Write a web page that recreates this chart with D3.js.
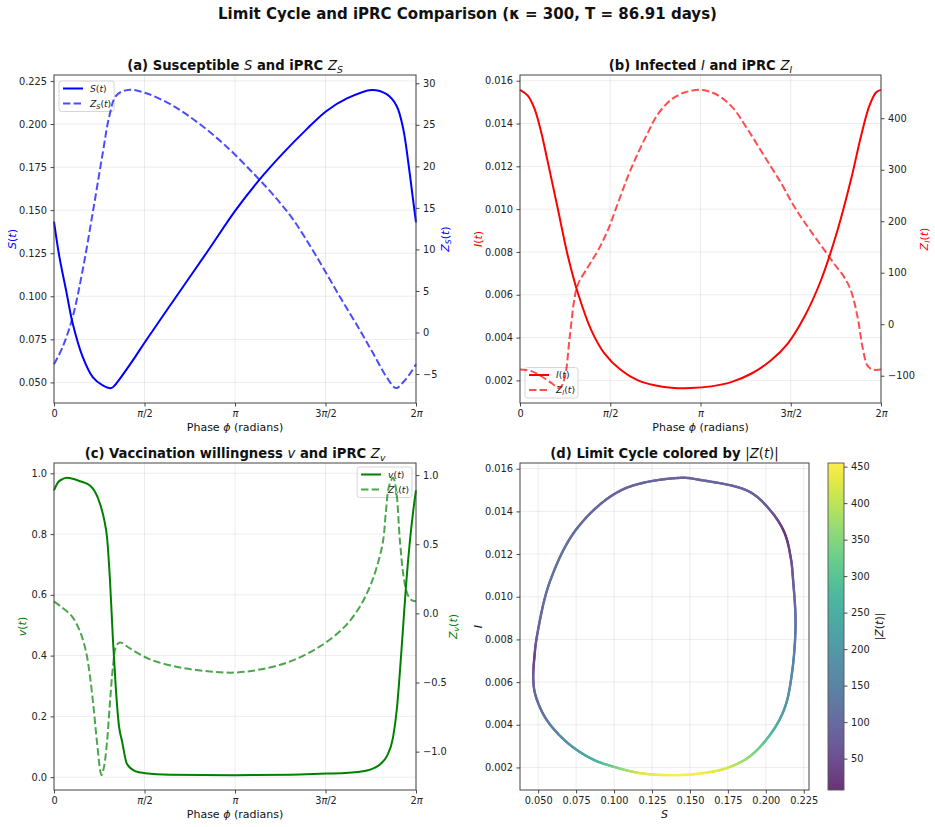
<!DOCTYPE html>
<html>
<head>
<meta charset="utf-8">
<script src="https://cdn.jsdelivr.net/npm/d3@7"></script>
<style>
  body { margin: 0; background: #fff; }
  text { font-family: "DejaVu Sans", sans-serif; }
</style>
</head>
<body>
<div id="chart"></div>
<script>
const TAU = 2 * Math.PI;

// ---- values (phase in radians) ----
// (a) susceptible S and its iPRC Z_S
const sPhase = [0, 0.093, 0.209, 0.325, 0.498, 0.672, 0.846, 0.991, 1.060, 1.136, 1.368, 1.600, 2.063, 2.643, 3.153, 3.541, 3.960, 4.382, 4.730, 5.077, 5.512, 5.773, 5.947, 6.063, 6.150, 6.225, 6.283];
const sVals = [0.1434, 0.123, 0.1036, 0.0842, 0.0648, 0.0531, 0.0483, 0.0467, 0.0485, 0.0518, 0.0628, 0.0745, 0.0970, 0.1250, 0.150, 0.1667, 0.1825, 0.1969, 0.2076, 0.2147, 0.2198, 0.2173, 0.2105, 0.1969, 0.1775, 0.158, 0.1429];
const zsPhase = [0, 0.151, 0.325, 0.498, 0.672, 0.846, 0.962, 1.078, 1.281, 1.600, 2.063, 2.527, 2.991, 3.454, 3.802, 4.150, 4.556, 4.961, 5.309, 5.541, 5.773, 5.935, 6.063, 6.179, 6.283];
const zsVals = [-3.83, -1.73, 1.89, 7.53, 14.4, 21.6, 26.1, 28.5, 29.2, 28.8, 27.3, 25.1, 22.4, 19.2, 16.6, 13.6, 9.15, 4.31, 0.28, -2.54, -5.36, -6.69, -5.96, -4.96, -3.83];

// (b) infected I and its iPRC Z_I
const iPhase = [0, 0.139, 0.255, 0.371, 0.487, 0.661, 0.835, 1.009, 1.240, 1.472, 1.762, 2.052, 2.342, 2.631, 2.979, 3.327, 3.675, 4.022, 4.370, 4.660, 4.950, 5.240, 5.529, 5.761, 5.935, 6.080, 6.196, 6.283];
const iVals = [0.01557, 0.01529, 0.01467, 0.01357, 0.01216, 0.00998, 0.00779, 0.00607, 0.00435, 0.00325, 0.00247, 0.00200, 0.00177, 0.00166, 0.00164, 0.00172, 0.00192, 0.00231, 0.00294, 0.00372, 0.00497, 0.00669, 0.00904, 0.01138, 0.01341, 0.01482, 0.01545, 0.01557];
const ziPhase = [0, 0.197, 0.371, 0.545, 0.690, 0.777, 0.864, 0.951, 1.009, 1.182, 1.356, 1.530, 1.704, 1.878, 2.052, 2.226, 2.400, 2.631, 2.863, 3.147, 3.385, 3.675, 3.964, 4.254, 4.544, 4.776, 5.008, 5.240, 5.471, 5.645, 5.761, 5.877, 5.964, 6.051, 6.138, 6.283];
const ziVals = [-88, -91, -101, -114, -124, -104, -26, 52, 78, 111, 143, 183, 235, 287, 332, 372, 408, 436, 450, 455, 448, 424, 378, 326, 274, 228, 189, 153, 117, 91, 65, 13, -46, -81, -88, -88];

// (c) vaccination willingness v and its iPRC Z_v
const vPhase = [0, 0.069, 0.139, 0.226, 0.451, 0.625, 0.798, 0.868, 0.920, 0.972, 1.024, 1.076, 1.128, 1.180, 1.267, 1.406, 1.579, 2.013, 3.142, 4.096, 4.617, 5.051, 5.311, 5.433, 5.554, 5.658, 5.780, 5.884, 5.954, 6.005, 6.058, 6.110, 6.179, 6.231, 6.283];
const vVals = [0.944, 0.970, 0.980, 0.985, 0.974, 0.960, 0.90, 0.85, 0.79, 0.647, 0.449, 0.284, 0.168, 0.119, 0.043, 0.020, 0.013, 0.008, 0.0066, 0.008, 0.011, 0.014, 0.018, 0.022, 0.030, 0.042, 0.070, 0.130, 0.23, 0.35, 0.49, 0.63, 0.78, 0.87, 0.944];
const zvPhase = [0, 0.139, 0.312, 0.451, 0.555, 0.625, 0.694, 0.746, 0.824, 0.868, 0.920, 0.972, 1.024, 1.076, 1.146, 1.319, 1.666, 2.187, 2.708, 3.142, 3.576, 4.096, 4.617, 5.051, 5.311, 5.485, 5.606, 5.710, 5.762, 5.815, 5.884, 5.936, 6.005, 6.075, 6.144, 6.214, 6.283];
const zvVals = [0.087, 0.043, -0.022, -0.13, -0.275, -0.457, -0.71, -0.93, -1.17, -1.11, -0.93, -0.64, -0.384, -0.24, -0.21, -0.254, -0.333, -0.391, -0.42, -0.428, -0.406, -0.348, -0.239, -0.094, 0.05, 0.196, 0.34, 0.52, 0.74, 0.92, 0.98, 0.90, 0.52, 0.246, 0.13, 0.094, 0.087];

// (d) limit cycle (S, I) and |Z| along it
const cycleS = [0.1434, 0.105, 0.0758, 0.0579, 0.0494, 0.0475, 0.0468, 0.0482, 0.0550, 0.0686, 0.0854, 0.1013, 0.1185, 0.1399, 0.1558, 0.1733, 0.1891, 0.2035, 0.2125, 0.2172, 0.2196, 0.2180, 0.2165, 0.2123, 0.2035, 0.1890, 0.1570];
const cycleI = [0.01557, 0.0150, 0.01322, 0.01074, 0.00823, 0.00715, 0.0061, 0.0054, 0.0043, 0.0032, 0.0024, 0.0020, 0.00172, 0.00164, 0.00171, 0.00195, 0.0025, 0.0036, 0.0048, 0.0064, 0.0087, 0.01076, 0.0118, 0.0130, 0.0140, 0.01493, 0.01547];
const cycleZ = [88, 90, 103, 119, 85, 25, 79, 95, 116, 178, 244, 339, 426, 455, 450, 420, 359, 280, 195, 158, 120, 79, 48, 7, 61, 85, 88];

// ticks
const phaseTicks = [0, Math.PI / 2, Math.PI, 3 * Math.PI / 2, TAU];
const phaseTickLabels = ["0", "π/2", "π", "3π/2", "2π"];
const sTicks = [0.050, 0.075, 0.100, 0.125, 0.150, 0.175, 0.200, 0.225];
const zsTicks = [-5, 0, 5, 10, 15, 20, 25, 30];
const iTicks = [0.002, 0.004, 0.006, 0.008, 0.010, 0.012, 0.014, 0.016];
const ziTicks = [-100, 0, 100, 200, 300, 400];
const vTicks = [0.0, 0.2, 0.4, 0.6, 0.8, 1.0];
const zvTicks = [-1.0, -0.5, 0.0, 0.5, 1.0];
const zNormTicks = [50, 100, 150, 200, 250, 300, 350, 400, 450];

const W = 935, H = 827;
const svg = d3.select("#chart").append("svg")
  .attr("width", W).attr("height", H)
  .style("background", "#fff");

const panels = {
  a: { x0: 54, x1: 416, y0: 75, y1: 403 },
  b: { x0: 520, x1: 881, y0: 75, y1: 403 },
  c: { x0: 54, x1: 416, y0: 463, y1: 790 },
  d: { x0: 520, x1: 809, y0: 463, y1: 790 }
};

const TICK_FS = 9.8, LABEL_FS = 11, LEG_FS = 9.2, TITLE_FS = 13.2;
const DASH = "7.4,3.2";
const smooth = d3.curveCatmullRom.alpha(0.5);

// matplotlib-like 5% margins
function padded(vals) {
  const [lo, hi] = d3.extent(vals);
  const p = (hi - lo) * 0.05;
  return [lo - p, hi + p];
}

// tiny mathtext: 'n' plain, 'm' upright math, 'i' italic math, 's' italic subscript
function mathText(sel, segs, size) {
  let down = false;
  segs.forEach(([t, st]) => {
    const ts = sel.append("tspan").text(t);
    if (st !== "n") ts.attr("font-weight", "normal");
    if (st === "i" || st === "s") ts.attr("font-style", "italic");
    if (st === "s") {
      ts.attr("font-size", size * 0.7);
      if (!down) { ts.attr("dy", size * 0.22); down = true; }
    } else if (down) {
      ts.attr("dy", -size * 0.22); down = false;
    }
  });
  return sel;
}

function styleAxis(g) {
  g.select(".domain").remove();
  g.attr("font-family", "DejaVu Sans").attr("font-size", TICK_FS);
  g.selectAll(".tick line").attr("stroke", "#333").attr("stroke-width", 0.9);
  g.selectAll(".tick text").attr("fill", "#222");
}

function phaseAxis(g, x, p) {
  g.attr("transform", `translate(0,${p.y1})`)
    .call(d3.axisBottom(x).tickValues(phaseTicks).tickSize(3.5).tickPadding(3.5));
  styleAxis(g);
  g.selectAll(".tick text").each(function (d, k) {
    const t = d3.select(this).text(null);
    const parts = phaseTickLabels[k].split("π");
    parts.forEach((s, j) => {
      if (s) t.append("tspan").text(s);
      if (j < parts.length - 1) t.append("tspan").attr("font-style", "italic").text("π");
    });
  });
}

function panelTitle(p, segs) {
  const t = svg.append("text")
    .attr("x", (p.x0 + p.x1) / 2).attr("y", p.y0 - 5)
    .attr("text-anchor", "middle").attr("font-size", TITLE_FS).attr("font-weight", "bold")
    .attr("fill", "#111");
  mathText(t, segs, TITLE_FS);
}

function yLabel(x, y, segs, color) {
  const t = svg.append("text")
    .attr("transform", `translate(${x},${y}) rotate(-90)`)
    .attr("text-anchor", "middle").attr("dy", "0.35em")
    .attr("font-size", LABEL_FS).attr("fill", color);
  mathText(t, segs, LABEL_FS);
}

function xLabel(p, segs) {
  const t = svg.append("text")
    .attr("x", (p.x0 + p.x1) / 2).attr("y", p.y1 + 28)
    .attr("text-anchor", "middle").attr("font-size", LABEL_FS).attr("fill", "#111");
  mathText(t, segs, LABEL_FS);
}

function legendBox(g, entries, place, p) {
  const lg = g.append("g");
  const box = lg.append("rect").attr("rx", 2.5).attr("fill", "#fff").attr("fill-opacity", 0.8)
    .attr("stroke", "#ccc").attr("stroke-width", 0.8);
  let maxW = 0;
  entries.forEach((e, k) => {
    const y = 7.5 + k * 15;
    lg.append("line").attr("x1", 4).attr("x2", 24).attr("y1", y).attr("y2", y)
      .attr("stroke", e.color).attr("stroke-width", 2)
      .attr("stroke-opacity", e.dashed ? 0.7 : 1)
      .attr("stroke-dasharray", e.dashed ? DASH : null);
    const t = lg.append("text").attr("x", 31).attr("y", y).attr("dy", "0.35em")
      .attr("font-size", LEG_FS).attr("fill", "#222");
    mathText(t, e.segs, LEG_FS);
    maxW = Math.max(maxW, t.node().getComputedTextLength());
  });
  const w = 31 + maxW + 3, h = entries.length * 15 + 0.5;
  box.attr("width", w).attr("height", h);
  let tx, ty;
  if (place === "ul") { tx = p.x0 + 5; ty = p.y0 + 6; }
  if (place === "ll") { tx = p.x0 + 5; ty = p.y1 - 5 - h; }
  if (place === "ur") { tx = p.x1 - 4 - w; ty = p.y0 + 4; }
  lg.attr("transform", `translate(${tx},${ty})`);
}

function frame(g, p) {
  g.append("rect").attr("x", p.x0).attr("y", p.y0)
    .attr("width", p.x1 - p.x0).attr("height", p.y1 - p.y0)
    .attr("fill", "none").attr("stroke", "#444").attr("stroke-width", 1);
}

function twinPanel(p, o) {
  const g = svg.append("g");
  const x = d3.scaleLinear().domain([0, TAU]).range([p.x0, p.x1]);
  const yL = d3.scaleLinear().domain(padded(o.left.vals)).range([p.y1, p.y0]);
  const yR = d3.scaleLinear().domain(padded(o.right.vals)).range([p.y1, p.y0]);

  const grid = g.append("g").attr("stroke", "#b0b0b0").attr("stroke-opacity", 0.3).attr("stroke-width", 0.8);
  grid.selectAll(".gx").data(phaseTicks).join("line")
    .attr("x1", d => x(d)).attr("x2", d => x(d)).attr("y1", p.y0).attr("y2", p.y1);
  grid.selectAll(".gy").data(o.left.ticks).join("line")
    .attr("x1", p.x0).attr("x2", p.x1).attr("y1", d => yL(d)).attr("y2", d => yL(d));

  const lineOf = (ys, curve) => d3.line().x(d => x(d[0])).y(d => ys(d[1])).curve(curve);

  g.append("path").datum(d3.zip(o.left.phase, o.left.vals))
    .attr("d", lineOf(yL, o.left.curve || smooth)).attr("fill", "none")
    .attr("stroke", o.color).attr("stroke-width", 2);

  legendBox(g, [
    { color: o.color, dashed: false, segs: o.left.legend },
    { color: o.color, dashed: true, segs: o.right.legend }
  ], o.legendPlace, p);

  g.append("path").datum(d3.zip(o.right.phase, o.right.vals))
    .attr("d", lineOf(yR, o.right.curve || smooth)).attr("fill", "none")
    .attr("stroke", o.color).attr("stroke-opacity", 0.7).attr("stroke-width", 2)
    .attr("stroke-dasharray", DASH);

  frame(g, p);

  phaseAxis(g.append("g"), x, p);
  const gl = g.append("g").attr("transform", `translate(${p.x0},0)`)
    .call(d3.axisLeft(yL).tickValues(o.left.ticks).tickFormat(d3.format(o.left.fmt)).tickSize(3.5).tickPadding(3.5));
  styleAxis(gl);
  const gr = g.append("g").attr("transform", `translate(${p.x1},0)`)
    .call(d3.axisRight(yR).tickValues(o.right.ticks).tickFormat(d3.format(o.right.fmt)).tickSize(3.5).tickPadding(3.5));
  styleAxis(gr);

  panelTitle(p, o.title);
  xLabel(p, [["Phase ", "n"], ["ϕ", "i"], [" (radians)", "n"]]);
  const cy = (p.y0 + p.y1) / 2;
  yLabel(o.left.labelX, cy, o.left.label, o.color);
  yLabel(o.right.labelX, cy, o.right.label, o.color);
}

// main title
svg.append("text").attr("x", W / 2).attr("y", 19).attr("text-anchor", "middle")
  .attr("font-size", 15).attr("font-weight", "bold").attr("fill", "#111")
  .text("Limit Cycle and iPRC Comparison (κ = 300, T = 86.91 days)");

twinPanel(panels.a, {
  color: "#0000ff",
  legendPlace: "ul",
  title: [["(a) Susceptible ", "n"], ["S", "i"], [" and iPRC ", "n"], ["Z", "i"], ["S", "s"]],
  left: { phase: sPhase, vals: sVals, ticks: sTicks, fmt: ".3f", labelX: 12,
          label: [["S", "i"], ["(", "m"], ["t", "i"], [")", "m"]],
          legend: [["S", "i"], ["(", "m"], ["t", "i"], [")", "m"]] },
  right: { phase: zsPhase, vals: zsVals, ticks: zsTicks, fmt: "d", labelX: 445,
           label: [["Z", "i"], ["S", "s"], ["(", "m"], ["t", "i"], [")", "m"]],
           legend: [["Z", "i"], ["S", "s"], ["(", "m"], ["t", "i"], [")", "m"]] }
});

twinPanel(panels.b, {
  color: "#ff0000",
  legendPlace: "ll",
  title: [["(b) Infected ", "n"], ["I", "i"], [" and iPRC ", "n"], ["Z", "i"], ["I", "s"]],
  left: { phase: iPhase, vals: iVals, ticks: iTicks, fmt: ".3f", labelX: 478,
          label: [["I", "i"], ["(", "m"], ["t", "i"], [")", "m"]],
          legend: [["I", "i"], ["(", "m"], ["t", "i"], [")", "m"]] },
  right: { phase: ziPhase, vals: ziVals, ticks: ziTicks, fmt: "d", labelX: 924,
           label: [["Z", "i"], ["I", "s"], ["(", "m"], ["t", "i"], [")", "m"]],
           legend: [["Z", "i"], ["I", "s"], ["(", "m"], ["t", "i"], [")", "m"]] }
});

twinPanel(panels.c, {
  color: "#008000",
  legendPlace: "ur",
  title: [["(c) Vaccination willingness ", "n"], ["v", "i"], [" and iPRC ", "n"], ["Z", "i"], ["v", "s"]],
  left: { phase: vPhase, vals: vVals, ticks: vTicks, fmt: ".1f", labelX: 22, curve: d3.curveMonotoneX,
          label: [["v", "i"], ["(", "m"], ["t", "i"], [")", "m"]],
          legend: [["v", "i"], ["(", "m"], ["t", "i"], [")", "m"]] },
  right: { phase: zvPhase, vals: zvVals, ticks: zvTicks, fmt: ".1f", labelX: 453,
           label: [["Z", "i"], ["v", "s"], ["(", "m"], ["t", "i"], [")", "m"]],
           legend: [["Z", "i"], ["v", "s"], ["(", "m"], ["t", "i"], [")", "m"]] }
});

// ---- (d) limit cycle coloured by |Z| ----
(function () {
  const p = panels.d;
  const g = svg.append("g");
  const xd = d3.scaleLinear().domain(padded(sVals)).range([p.x0, p.x1]);
  const yd = d3.scaleLinear().domain(padded(iVals)).range([p.y1, p.y0]);
  const zExt = d3.extent(cycleZ);
  const fade = t => d3.interpolateRgb("#ffffff", d3.interpolateViridis(t))(0.8);
  const zColor = z => fade((z - zExt[0]) / (zExt[1] - zExt[0]));

  const grid = g.append("g").attr("stroke", "#b0b0b0").attr("stroke-opacity", 0.3).attr("stroke-width", 0.8);
  grid.selectAll(".gx").data(sTicks).join("line")
    .attr("x1", d => xd(d)).attr("x2", d => xd(d)).attr("y1", p.y0).attr("y2", p.y1);
  grid.selectAll(".gy").data(iTicks).join("line")
    .attr("x1", p.x0).attr("x2", p.x1).attr("y1", d => yd(d)).attr("y2", d => yd(d));

  const pts = cycleS.map((s, k) => ({ s, i: cycleI[k], z: cycleZ[k] }));
  const loop = d3.line().x(d => xd(d.s)).y(d => yd(d.i)).curve(d3.curveCatmullRomClosed.alpha(0.5));
  const guide = g.append("path").attr("d", loop(pts)).attr("fill", "none").attr("stroke", "none");
  const node = guide.node();
  const L = node.getTotalLength();
  const N = 700;
  const samp = d3.range(N + 1).map(k => {
    const q = node.getPointAtLength(k / N * L);
    return { x: q.x, y: q.y, l: k / N * L };
  });
  // where each knot sits along the drawn loop
  const knots = pts.map(d => {
    const kx = xd(d.s), ky = yd(d.i);
    const best = d3.least(samp, q => (q.x - kx) ** 2 + (q.y - ky) ** 2);
    return { l: best.l, z: d.z };
  }).sort((a, b) => a.l - b.l);
  const zAt = l => {
    for (let j = 0; j < knots.length; j++) {
      const a = knots[j], b = j + 1 < knots.length ? knots[j + 1] : { l: knots[0].l + L, z: knots[0].z };
      const ll = l < knots[0].l ? l + L : l;
      if (ll >= a.l && ll <= b.l) return a.z + (b.z - a.z) * (ll - a.l) / (b.l - a.l || 1);
    }
    return knots[0].z;
  };
  const segs = d3.range(N).map(k => ({ a: samp[k], b: samp[k + 1], z: zAt((samp[k].l + samp[k + 1].l) / 2) }));
  g.append("g").selectAll("line").data(segs).join("line")
    .attr("x1", d => d.a.x).attr("y1", d => d.a.y).attr("x2", d => d.b.x).attr("y2", d => d.b.y)
    .attr("stroke", d => zColor(d.z)).attr("stroke-width", 2.4).attr("stroke-linecap", "round");

  frame(g, p);
  const gx = g.append("g").attr("transform", `translate(0,${p.y1})`)
    .call(d3.axisBottom(xd).tickValues(sTicks).tickFormat(d3.format(".3f")).tickSize(3.5).tickPadding(3.5));
  styleAxis(gx);
  const gy = g.append("g").attr("transform", `translate(${p.x0},0)`)
    .call(d3.axisLeft(yd).tickValues(iTicks).tickFormat(d3.format(".3f")).tickSize(3.5).tickPadding(3.5));
  styleAxis(gy);

  panelTitle(p, [["(d) Limit Cycle colored by ", "n"], ["|", "m"], ["Z", "i"], ["(", "m"], ["t", "i"], [")|", "m"]]);
  xLabel(p, [["S", "i"]]);
  yLabel(478, (p.y0 + p.y1) / 2, [["I", "i"]], "#111");

  // colorbar
  const cb = { x0: 828, x1: 844, y0: p.y0, y1: p.y1 };
  const defs = svg.append("defs");
  const grad = defs.append("linearGradient").attr("id", "cbGrad")
    .attr("x1", 0).attr("y1", 1).attr("x2", 0).attr("y2", 0);
  d3.range(41).forEach(k => grad.append("stop").attr("offset", k / 40).attr("stop-color", fade(k / 40)));
  svg.append("rect").attr("x", cb.x0).attr("y", cb.y0).attr("width", cb.x1 - cb.x0).attr("height", cb.y1 - cb.y0)
    .attr("fill", "url(#cbGrad)").attr("stroke", "#555").attr("stroke-width", 0.9);
  const cs = d3.scaleLinear().domain(zExt).range([cb.y1, cb.y0]);
  const gc = svg.append("g").attr("transform", `translate(${cb.x1},0)`)
    .call(d3.axisRight(cs).tickValues(zNormTicks).tickFormat(d3.format("d")).tickSize(3.5).tickPadding(3.5));
  styleAxis(gc);
  yLabel(879, (cb.y0 + cb.y1) / 2, [["|", "m"], ["Z", "i"], ["(", "m"], ["t", "i"], [")|", "m"]], "#111");
})();
</script>
</body>
</html>
